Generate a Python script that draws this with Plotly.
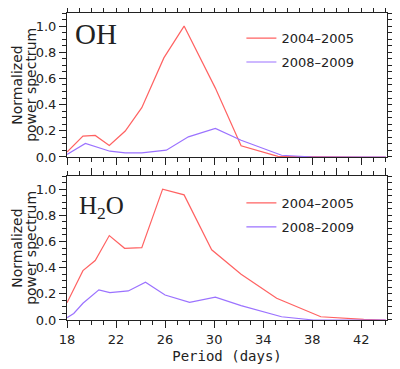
import plotly.graph_objects as go

# OH panel
oh_red_x = [18.0, 19.3, 20.3, 21.45, 22.75, 24.1, 25.9, 27.55, 30.1, 32.2, 35.2, 38.6, 42.2, 44.0]
oh_red_y = [0.038, 0.16, 0.165, 0.088, 0.198, 0.377, 0.757, 1.0, 0.526, 0.085, 0.005, 0.0, 0.0, 0.0]
oh_pur_x = [18.0, 19.5, 21.5, 22.75, 24.1, 26.1, 27.9, 30.1, 32.2, 35.5, 38.1, 42.2, 44.0]
oh_pur_y = [0.02, 0.103, 0.044, 0.031, 0.032, 0.052, 0.154, 0.218, 0.128, 0.013, 0.0, 0.0, 0.0]

# H2O panel
h2o_red_x = [18.0, 19.3, 20.3, 21.45, 22.7, 24.1, 25.8, 27.55, 29.8, 32.2, 35.1, 38.7, 42.2, 44.0]
h2o_red_y = [0.132, 0.377, 0.454, 0.645, 0.548, 0.553, 1.0, 0.956, 0.536, 0.35, 0.166, 0.025, 0.005, 0.0]
h2o_pur_x = [18.0, 18.55, 19.3, 20.6, 21.5, 23.0, 24.4, 26.0, 28.0, 30.1, 32.2, 35.5, 38.1, 42.2, 44.0]
h2o_pur_y = [0.018, 0.05, 0.128, 0.23, 0.209, 0.222, 0.288, 0.191, 0.135, 0.174, 0.11, 0.025, 0.0, 0.0, 0.0]

series_names = ["2004\u20132005", "2008\u20132009"]
colors = ["#ff6262", "#9b72ff"]
panel_labels = ["OH", "H<sub>2</sub>O"]
y_title_lines = ["Normalized", "power spectrum"]
x_title = "Period (days)"

FONT = "DejaVu Sans"
TXT = "#222222"
AX = "#222222"

fig = go.Figure()

fig.add_trace(go.Scatter(x=oh_red_x, y=oh_red_y, mode="lines", name=series_names[0], legendgroup="a",
                         line=dict(color=colors[0], width=1.2), xaxis="x", yaxis="y", legend="legend"))
fig.add_trace(go.Scatter(x=oh_pur_x, y=oh_pur_y, mode="lines", name=series_names[1], legendgroup="b",
                         line=dict(color=colors[1], width=1.2), xaxis="x", yaxis="y", legend="legend"))
fig.add_trace(go.Scatter(x=h2o_red_x, y=h2o_red_y, mode="lines", name=series_names[0], legendgroup="c",
                         line=dict(color=colors[0], width=1.2), xaxis="x2", yaxis="y2", legend="legend2"))
fig.add_trace(go.Scatter(x=h2o_pur_x, y=h2o_pur_y, mode="lines", name=series_names[1], legendgroup="d",
                         line=dict(color=colors[1], width=1.2), xaxis="x2", yaxis="y2", legend="legend2"))

top_dom = [0.531, 1.0]
bot_dom = [0.0, 0.469]
XR = [18, 44.1]
YR = [0, 1.1]

def xax(anchor, show_labels, title=None):
    d = dict(range=XR, anchor=anchor, domain=[0, 1], showgrid=False, zeroline=False,
             showline=True, linecolor=AX, linewidth=1, mirror=False, automargin=False,
             ticks="outside", ticklen=7, tickwidth=1, tickcolor=AX,
             tick0=18, dtick=4, showticklabels=show_labels,
             tickfont=dict(family=FONT, size=13, color=TXT),
             minor=dict(ticks="outside", ticklen=4, dtick=1, tickcolor=AX, tickwidth=1))
    if title:
        d["title"] = dict(text=title, font=dict(family="DejaVu Sans Mono", size=14, color=TXT), standoff=5)
    return d

def xtop(overlay, anchor):
    return dict(range=XR, overlaying=overlay, anchor=anchor, side="top", showgrid=False,
                zeroline=False, showline=True, linecolor=AX, linewidth=1, automargin=False,
                ticks="outside", ticklen=7, tickwidth=1, tickcolor=AX,
                tick0=20, dtick=4, showticklabels=False,
                minor=dict(ticks="outside", ticklen=4, dtick=1, tickcolor=AX, tickwidth=1))

def yax(anchor, domain):
    return dict(range=YR, anchor=anchor, domain=domain, showgrid=False, zeroline=False,
                showline=True, linecolor=AX, linewidth=1, mirror=False, automargin=False,
                ticks="outside", ticklen=7, tickwidth=1, tickcolor=AX,
                tick0=0, dtick=0.2, tickformat=".1f",
                tickfont=dict(family=FONT, size=13, color=TXT),
                minor=dict(ticks="outside", ticklen=4, dtick=0.05, tickcolor=AX, tickwidth=1))

def yright(overlay, anchor):
    return dict(range=YR, overlaying=overlay, anchor=anchor, side="right", showgrid=False,
                zeroline=False, showline=True, linecolor=AX, linewidth=1, automargin=False,
                ticks="outside", ticklen=7, tickwidth=1, tickcolor=AX,
                tick0=0, dtick=0.2, showticklabels=False,
                minor=dict(ticks="outside", ticklen=4, dtick=0.05, tickcolor=AX, tickwidth=1))

leg = dict(xanchor="left", yanchor="top", bgcolor="rgba(0,0,0,0)",
           font=dict(family=FONT, size=13, color=TXT), itemwidth=30, tracegroupgap=4)

# page body has an 8px margin, so the figure is sized/offset to compensate
fig.update_layout(
    width=392, height=361,
    margin=dict(l=59, r=13, t=5, b=49),
    paper_bgcolor="white", plot_bgcolor="white",
    showlegend=True,
    xaxis=xax("y", False),
    yaxis=yax("x", top_dom),
    xaxis2=xax("y2", True, x_title),
    yaxis2=yax("x2", bot_dom),
    xaxis3=xtop("x", "y"),
    yaxis3=yright("y", "x"),
    xaxis4=xtop("x2", "y2"),
    yaxis4=yright("y2", "x2"),
    legend=dict(x=0.545, y=0.967, **leg),
    legend2=dict(x=0.545, y=0.43, **leg),
)

fig.add_trace(go.Scatter(x=[18], y=[0], xaxis="x3", yaxis="y3", showlegend=False,
                         hoverinfo="skip", mode="markers", marker=dict(opacity=0)))
fig.add_trace(go.Scatter(x=[18], y=[0], xaxis="x4", yaxis="y4", showlegend=False,
                         hoverinfo="skip", mode="markers", marker=dict(opacity=0)))

for yc in [(top_dom[0] + top_dom[1]) / 2, (bot_dom[0] + bot_dom[1]) / 2]:
    for line_text, xp in zip(y_title_lines, [-0.157, -0.113]):
        fig.add_annotation(text=line_text, xref="paper", yref="paper", x=xp, y=yc,
                           xanchor="center", yanchor="middle", showarrow=False, textangle=-90,
                           font=dict(family=FONT, size=14, color=TXT))

fig.add_annotation(text=panel_labels[0], xref="paper", yref="paper", x=0.02, y=0.933,
                   xanchor="left", yanchor="middle", showarrow=False,
                   font=dict(family="Liberation Serif", size=29, color=TXT))
fig.add_annotation(text=panel_labels[1], xref="paper", yref="paper", x=0.03, y=0.365,
                   xanchor="left", yanchor="middle", showarrow=False,
                   font=dict(family="Liberation Serif", size=25, color=TXT))

fig.write_html("out.html")
